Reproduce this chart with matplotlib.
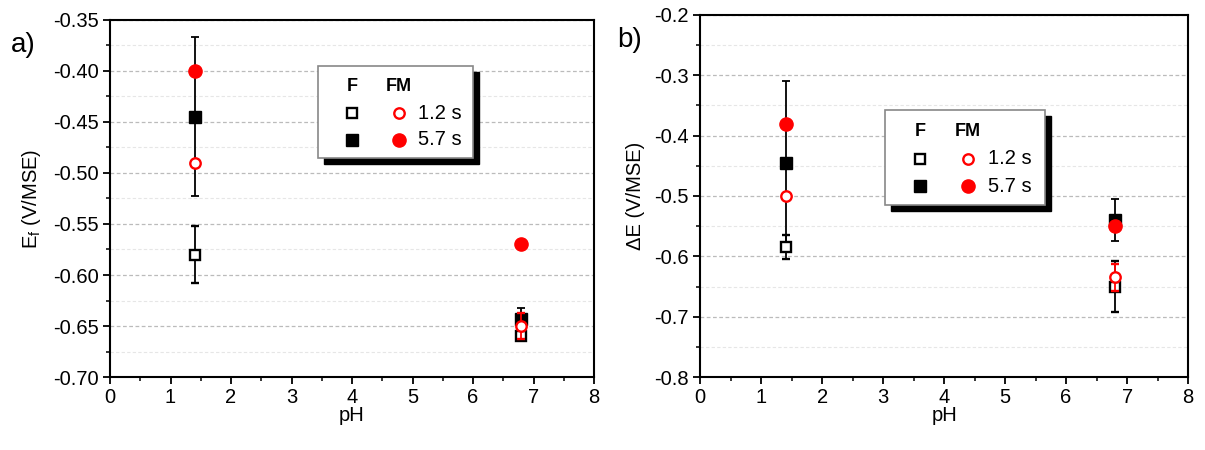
import matplotlib
matplotlib.use("Agg")
import matplotlib.pyplot as plt
from matplotlib.patches import Rectangle
from matplotlib.ticker import MultipleLocator

plt.rcParams['font.family'] = ['Liberation Sans', 'DejaVu Sans']

ph = [1.4, 6.8]

# panel a) Ef
a_F12 = [-0.580, -0.660]
a_F12_err = [0.028, 0.0]
a_F57 = [-0.445, -0.643]
a_F57_err = [0.078, 0.011]
a_FM12 = [-0.490, -0.650]
a_FM12_err = [0.0, 0.013]
a_FM57 = [-0.400, -0.570]

# panel b) dE
b_F12 = [-0.585, -0.650]
b_F12_err = [0.020, 0.043]
b_F57 = [-0.445, -0.540]
b_F57_err = [0.135, 0.035]
b_FM12 = [-0.500, -0.635]
b_FM12_err = [0.0, 0.022]
b_FM57 = [-0.380, -0.550]

fig = plt.figure(figsize=(12.05, 4.5), dpi=100)
axa = fig.add_axes([0.0913, 0.162, 0.4017, 0.794])
axb = fig.add_axes([0.581, 0.162, 0.405, 0.805])


def draw(ax, F12, F12e, F57, F57e, FM12, FM12e, FM57):
    ax.errorbar(ph, F57, yerr=F57e, fmt='s', color='black', ms=8,
                capsize=3, elinewidth=1.3, capthick=1.3, zorder=3)
    ax.errorbar(ph, F12, yerr=F12e, fmt='s', mfc='white', mec='black', mew=1.7,
                ecolor='black', ms=7, capsize=3, elinewidth=1.3, capthick=1.3, zorder=4)
    ax.errorbar(ph, FM12, yerr=FM12e, fmt='o', mfc='white', mec='red', mew=1.7,
                ecolor='red', ms=7.5, capsize=3, elinewidth=1.3, capthick=1.3, zorder=5)
    ax.plot(ph, FM57, 'o', color='red', ms=9.5, zorder=6)


def style(ax, ylim, ymaj, ymin, ylabel, tag, tagx, fmt):
    ax.set_xlim(0, 8)
    ax.set_ylim(*ylim)
    ax.xaxis.set_major_locator(MultipleLocator(1))
    ax.xaxis.set_minor_locator(MultipleLocator(0.5))
    ax.yaxis.set_major_locator(MultipleLocator(ymaj))
    ax.yaxis.set_minor_locator(MultipleLocator(ymin))
    ax.yaxis.set_major_formatter(plt.FormatStrFormatter(fmt))
    ax.tick_params(which='major', direction='out', length=5, width=1.3, labelsize=14.5,
                   top=False, right=False, pad=3)
    ax.tick_params(which='minor', direction='out', length=3, width=1.1,
                   top=False, right=False)
    for s in ax.spines.values():
        s.set_linewidth(1.5)
    ax.grid(True, which='major', axis='y', ls=(0, (3, 2)), color='#bbbbbb', lw=0.9)
    ax.grid(True, which='minor', axis='y', ls=(0, (3, 2)), color='#e6e6e6', lw=0.8)
    ax.set_axisbelow(True)
    ax.set_xlabel('pH', fontsize=14.5, labelpad=-1)
    ax.set_ylabel(ylabel, fontsize=14.5, labelpad=7)
    ax.text(tagx, 0.93, tag, transform=ax.transAxes, fontsize=20, ha='left', va='center')


def legend_box(ax, x0, y0, w, h):
    tr = ax.transAxes
    fig_w = 1205 * ax.get_position().width
    fig_h = 450 * ax.get_position().height
    dx, dy = 6 / fig_w, 6 / fig_h
    ax.add_patch(Rectangle((x0 + dx, y0 - dy), w, h, transform=tr, facecolor='black',
                           edgecolor='black', zorder=8))
    ax.add_patch(Rectangle((x0, y0), w, h, transform=tr, facecolor='white',
                           edgecolor='#888888', lw=1.2, zorder=9))
    cx1 = x0 + 0.22 * w
    cx2 = x0 + 0.52 * w
    tx = x0 + 0.645 * w
    r0 = y0 + 0.78 * h
    r1 = y0 + 0.49 * h
    r2 = y0 + 0.20 * h
    ax.text(cx1, r0, 'F', transform=tr, fontsize=13, fontweight='bold', ha='center', va='center', zorder=10)
    ax.text(cx2, r0, 'FM', transform=tr, fontsize=13, fontweight='bold', ha='center', va='center', zorder=10)
    ax.plot([cx1], [r1], 's', mfc='white', mec='black', mew=1.7, ms=7, transform=tr, zorder=10)
    ax.plot([cx1], [r2], 's', color='black', ms=8, transform=tr, zorder=10)
    ax.plot([cx2], [r1], 'o', mfc='white', mec='red', mew=1.7, ms=7.5, transform=tr, zorder=10)
    ax.plot([cx2], [r2], 'o', color='red', ms=9.5, transform=tr, zorder=10)
    ax.text(tx, r1, '1.2 s', transform=tr, fontsize=14.5, ha='left', va='center', zorder=10)
    ax.text(tx, r2, '5.7 s', transform=tr, fontsize=14.5, ha='left', va='center', zorder=10)


draw(axa, a_F12, a_F12_err, a_F57, a_F57_err, a_FM12, a_FM12_err, a_FM57)
style(axa, (-0.70, -0.35), 0.05, 0.025, 'E$_\\mathregular{f}$ (V/MSE)', 'a)', -0.205, '%.2f')
legend_box(axa, 0.430, 0.612, 0.320, 0.258)

draw(axb, b_F12, b_F12_err, b_F57, b_F57_err, b_FM12, b_FM12_err, b_FM57)
style(axb, (-0.80, -0.20), 0.1, 0.05, '\u0394E (V/MSE)', 'b)', -0.17, '%.1f')
legend_box(axb, 0.379, 0.475, 0.328, 0.262)

fig.savefig('out.png', dpi=100)
